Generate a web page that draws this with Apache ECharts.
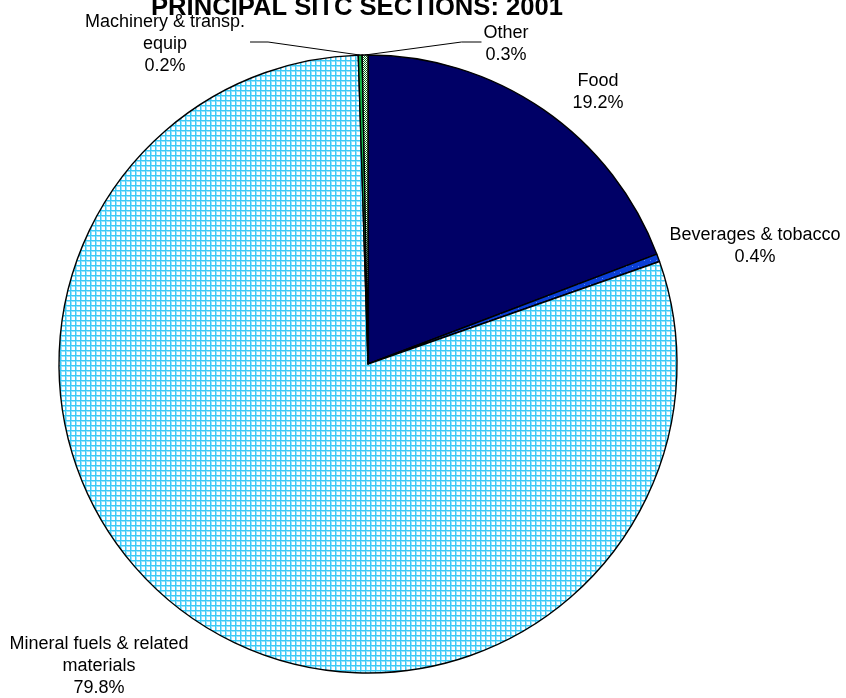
<!DOCTYPE html>
<html><head><meta charset="utf-8">
<script src="https://cdn.jsdelivr.net/npm/echarts@6/dist/echarts.min.js"></script>
<style>html,body{margin:0;padding:0;background:#fff}#c{width:846px;height:698px}</style>
</head><body><div id="c"></div>
<script>
// ---- data ----
const titleText = 'PRINCIPAL SITC SECTIONS: 2001';
const categories = ['Food', 'Beverages & tobacco', 'Mineral fuels & related\nmaterials', 'Machinery & transp.\nequip', 'Other'];
const values = [19.2, 0.4, 79.8, 0.2, 0.3];

// ---- patterns ----
function makePattern(size, draw) {
  const c = document.createElement('canvas');
  c.width = size; c.height = size;
  const g = c.getContext('2d');
  draw(g, size);
  return { image: c, repeat: 'repeat' };
}
const gridPattern = makePattern(5, (g, s) => {
  g.fillStyle = '#ffffff'; g.fillRect(0, 0, s, s);
  g.fillStyle = '#9be2fa'; g.fillRect(1, 0, 1, s); g.fillRect(0, 1, s, 1);
  g.fillStyle = '#3ccaf7'; g.fillRect(0, 0, 1, s); g.fillRect(0, 0, s, 1);
});
const dotPattern = makePattern(6, (g, s) => {
  g.fillStyle = '#0b3fd6'; g.fillRect(0, 0, s, s);
  g.fillStyle = '#5f8cf0'; g.fillRect(2, 2, 1, 1);
});
const checkPattern = makePattern(2, (g, s) => {
  g.fillStyle = '#ffffff'; g.fillRect(0, 0, s, s);
  g.fillStyle = '#0a6a1a'; g.fillRect(0, 0, 1, 1); g.fillRect(1, 1, 1, 1);
});
const fills = ['#000066', dotPattern, gridPattern, '#12b84a', checkPattern];
const showLine = [false, false, false, true, true];

// label block centres (layout)
const labelPos = [[598, 92], [755, 246], [99, 666], [165, 44], [506, 44]];

const chart = echarts.init(document.getElementById('c'), null, { renderer: 'canvas' });
chart.setOption({
  animation: false,
  backgroundColor: '#ffffff',
  title: {
    text: titleText, left: 151, top: -5, padding: 0,
    textStyle: { fontFamily: 'Liberation Sans, Arial, sans-serif', fontSize: 25.6, fontWeight: 'bold', color: '#000' }
  },
  series: [{
    type: 'pie',
    center: [368, 364],
    radius: 309,
    startAngle: 90,
    clockwise: true,
    avoidLabelOverlap: false,
    itemStyle: { borderColor: '#000', borderWidth: 1.4 },
    label: {
      show: true, position: 'outside',
      fontFamily: 'Liberation Sans, Arial, sans-serif', fontSize: 18, lineHeight: 22,
      color: '#000', align: 'center',
      formatter: p => p.name + '\n' + p.value.toFixed(1) + '%'
    },
    labelLine: { show: true, length: 10, length2: 10, lineStyle: { color: '#000', width: 1 } },
    emphasis: { disabled: true },
    labelLayout: function (params) {
      const i = params.dataIndex;
      const [cx, cy] = labelPos[i];
      const out = { x: cx, y: cy, align: 'center', verticalAlign: 'middle' };
      if (showLine[i] && params.labelLinePoints) {
        const p0 = params.labelLinePoints[0];
        const w = params.labelRect.width;
        const ly = cy - 2;
        if (i === 3) {
          const ex = cx + w / 2 + 5;
          out.labelLinePoints = [p0, [ex + 18, ly], [ex, ly]];
        } else {
          const ex = cx - w / 2 - 2;
          out.labelLinePoints = [p0, [ex - 20, ly], [ex, ly]];
        }
      }
      return out;
    },
    data: categories.map((name, i) => ({
      name, value: values[i],
      itemStyle: { color: fills[i] },
      labelLine: { show: showLine[i] }
    }))
  }]
});
</script>
</body></html>
